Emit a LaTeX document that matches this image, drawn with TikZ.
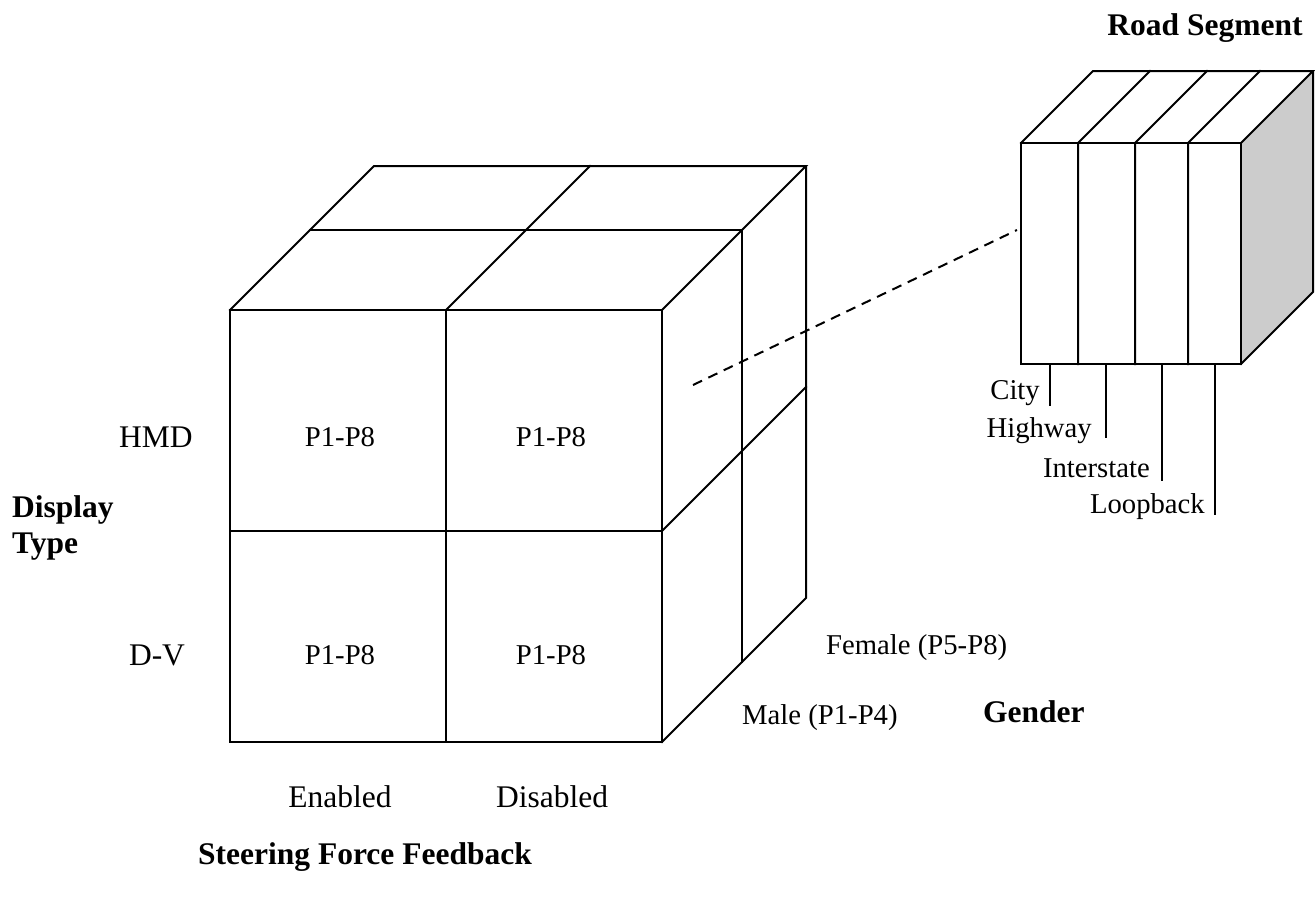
\documentclass[tikz,border=0pt]{standalone}
\usepackage{fontspec}
\setmainfont{Liberation Serif}
\begin{document}
\begin{tikzpicture}[x=1pt,y=-1pt,
  edge/.style={draw=black, line width=2pt, line join=miter, line cap=rect},
  dashline/.style={draw=black, line width=2pt, dash pattern=on 10pt off 7pt},
  lab/.style={font=\fontsize{28.7}{34}\selectfont, inner sep=0pt},
  labL/.style={font=\fontsize{31.5}{36}\selectfont, inner sep=0pt},
  head/.style={font=\fontsize{31.5}{36}\selectfont\bfseries, inner sep=0pt},
  side/.style={fill=black!20}]
\useasboundingbox (0,0) rectangle (1315,900);

% ---- big cube ----
\coordinate (F1) at (230,310);
\coordinate (F2) at (662,310);
\coordinate (F3) at (662,742);
\coordinate (F4) at (230,742);
\coordinate (FmT) at (446,310);
\coordinate (FmB) at (446,742);
\coordinate (FmL) at (230,531);
\coordinate (FmR) at (662,531);
\coordinate (B1) at (374,166);
\coordinate (B2) at (806,166);
\coordinate (B3) at (806,598);
\coordinate (BmT) at (590,166);
\coordinate (BmR) at (806,387);
\coordinate (M1) at (310,230);
\coordinate (M2) at (742,230);
\coordinate (M3) at (742,662);

\draw[edge] (F1) -- (F2) -- (F3) -- (F4) -- cycle;
\draw[edge] (FmT) -- (FmB);
\draw[edge] (FmL) -- (FmR);
\draw[edge] (F1) -- (B1) -- (B2) -- (F2);
\draw[edge] (B2) -- (B3) -- (F3);
\draw[edge] (FmT) -- (BmT);
\draw[edge] (M1) -- (M2) -- (M3);
\draw[edge] (FmR) -- (BmR);

% ---- small cube ----
\coordinate (S1) at (1021,143);
\coordinate (S2) at (1241,143);
\coordinate (S3) at (1241,364);
\coordinate (S4) at (1021,364);
\coordinate (T1) at (1093,71);
\coordinate (T2) at (1313,71);
\coordinate (T3) at (1313,292);
\fill[side] (S2) -- (T2) -- (T3) -- (S3) -- cycle;
\draw[edge] (S1) -- (S2) -- (S3) -- (S4) -- cycle;
\draw[edge] (S1) -- (T1) -- (T2) -- (S2);
\draw[edge] (T2) -- (T3) -- (S3);
\foreach \x in {1078,1135,1188}{
  \coordinate (dv\x) at (\x,143);
  \coordinate (db\x) at (\x,364);
  \coordinate (dt\x) at (\x+72,71);
  \draw[edge] (db\x) -- (dv\x) -- (dt\x);
}

% ticks
\coordinate (k1a) at (1050,364); \coordinate (k1b) at (1050,406);
\coordinate (k2a) at (1106,364); \coordinate (k2b) at (1106,438);
\coordinate (k3a) at (1162,364); \coordinate (k3b) at (1162,481);
\coordinate (k4a) at (1215,364); \coordinate (k4b) at (1215,515);
\draw[edge,line cap=butt] (k1a) -- (k1b);
\draw[edge,line cap=butt] (k2a) -- (k2b);
\draw[edge,line cap=butt] (k3a) -- (k3b);
\draw[edge,line cap=butt] (k4a) -- (k4b);

\node[lab,anchor=east] (city) at (1040,393) {City};
\node[lab,anchor=east] (hwy) at (1092,431) {Highway};
\node[lab,anchor=east] (inter) at (1150,468) {Interstate};
\node[lab,anchor=east] (loop) at (1205,507) {Loopback};

% dashed connector
\coordinate (d1) at (693,385);
\coordinate (d2) at (1017,230);
\draw[dashline] (d1) -- (d2);

% labels
\node[head] (road) at (1205,28) {Road Segment};
\node[labL] (hmd) at (156,437) {HMD};
\node[labL] (dv) at (157,655) {D-V};
\node[head,anchor=west] (disp) at (12,510) {Display};
\node[head,anchor=west] (type) at (12,547) {Type};
\node[lab] (c11) at (340,437) {P1-P8};
\node[lab] (c12) at (551,437) {P1-P8};
\node[lab] (c21) at (340,655) {P1-P8};
\node[lab] (c22) at (551,655) {P1-P8};
\node[labL] (en) at (340,797) {Enabled};
\node[labL] (dis) at (552,797) {Disabled};
\node[head] (sff) at (365,857) {Steering Force Feedback};
\node[lab,anchor=west] (fem) at (826,648) {Female (P5-P8)};
\node[lab,anchor=west] (male) at (742,718) {Male (P1-P4)};
\node[head,anchor=west] (gen) at (983,712) {Gender};
\end{tikzpicture}
\end{document}
